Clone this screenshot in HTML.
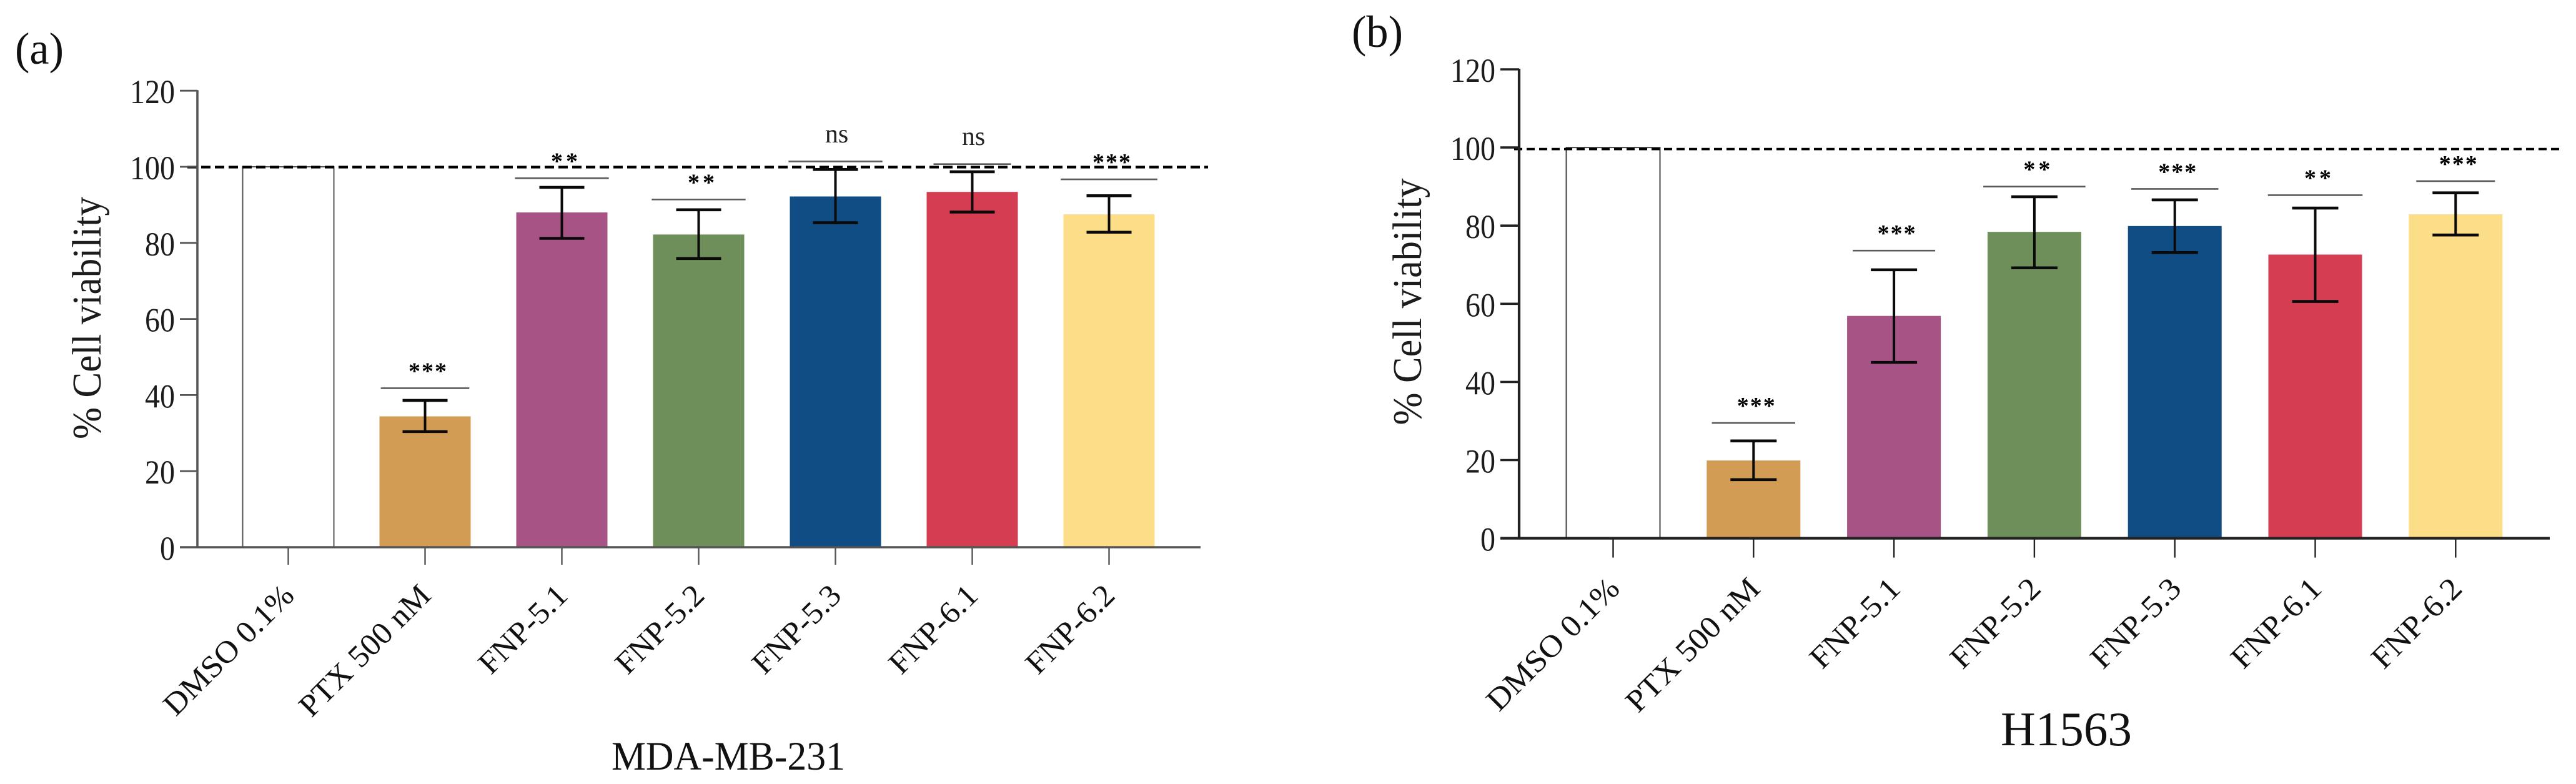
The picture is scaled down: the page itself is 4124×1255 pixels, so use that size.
<!DOCTYPE html>
<html lang="en">
<head>
<meta charset="utf-8">
<title>Cell viability bar charts</title>
<style>
  html, body { margin: 0; padding: 0; background: #fff; }
  svg { display: block; font-family: "Liberation Serif", serif; }
</style>
</head>
<body>
<svg id="figure" xmlns="http://www.w3.org/2000/svg" width="4124" height="1255" viewBox="0 0 4124 1255">
  <rect x="0" y="0" width="4124" height="1255" fill="#ffffff"/>
</svg>
<script>
// Shared data
const categories = ['DMSO 0.1%', 'PTX 500 nM', 'FNP-5.1', 'FNP-5.2', 'FNP-5.3', 'FNP-6.1', 'FNP-6.2'];
const yTicks = [0, 20, 40, 60, 80, 100, 120];
const barColors = ['none', '#D29C55', '#A85385', '#6E8F5A', '#0F4D84', '#D53E52', '#FDDE88'];
const referenceLevel = 100;

// Panel (a) MDA-MB-231
const aValues = [100, 34.4, 88, 82.2, 92.2, 93.4, 87.5];
const aErrHigh = [null, 38.6, 94.6, 88.7, 99.3, 98.7, 92.4];
const aErrLow = [null, 30.4, 81.2, 75.9, 85.3, 88.1, 82.8];
const aSigLevel = [null, 41.8, 97, 91.4, 101.4, 100.7, 96.7];
const aSigLabel = [null, '***', '**', '**', 'ns', 'ns', '***'];
const aSigSpan = [null, 0.97, 1.03, 1.03, 1.03, 0.85, 1.06];

// Panel (b) H1563
const bValues = [100, 19.9, 56.9, 78.4, 79.9, 72.6, 82.9];
const bErrHigh = [null, 24.9, 68.7, 87.4, 86.6, 84.5, 88.4];
const bErrLow = [null, 15, 45, 69.2, 73.1, 60.6, 77.6];
const bSigLevel = [null, 29.5, 73.6, 90, 89.4, 87.8, 91.4];
const bSigLabel = [null, '***', '***', '**', '***', '**', '***'];
const bSigSpan = [null, 0.89, 0.88, 1.09, 0.93, 1.01, 0.84];

const SVG_NS = 'http://www.w3.org/2000/svg';
const figure = document.getElementById('figure');

function mk(parent, tag, attrs, name, text) {
  const el = document.createElementNS(SVG_NS, tag);
  for (const k in attrs) el.setAttribute(k, attrs[k]);
  
  
  if (text !== undefined) el.textContent = text;
  parent.appendChild(el);
  return el;
}

function slug(s) {
  return s.toLowerCase().replace(/[^a-z0-9]+/g, '-');
}

function drawPanel(p) {
  const g = mk(figure, 'g', {}, p.id + '-chart');
  const x = i => p.x0 + p.pitch * i;
  const y = v => p.yZero - v * p.pxPerUnit;

  // Bars
  p.values.forEach((v, i) => {
    const slugName = slug(categories[i]);
    if (barColors[i] === 'none') {
      mk(g, 'rect', { x: x(i) - p.barW / 2, y: y(v), width: p.barW, height: y(0) - y(v),
        fill: 'none', stroke: p.outline, 'stroke-width': 2 }, p.id + '-bar-' + slugName);
    } else {
      mk(g, 'rect', { x: x(i) - p.barW / 2, y: y(v), width: p.barW, height: y(0) - y(v),
        fill: barColors[i] }, p.id + '-bar-' + slugName);
    }
  });

  // Reference line
  mk(g, 'line', { x1: p.dashFrom, x2: p.dashTo, y1: y(referenceLevel) + p.dashNudge, y2: y(referenceLevel) + p.dashNudge,
    stroke: '#000', 'stroke-width': p.dashW, 'stroke-dasharray': p.dash }, p.id + '-reference-line');

  // Axes
  mk(g, 'line', { x1: p.axisX, x2: p.axisX, y1: y(120) - 1, y2: y(0) + 1, stroke: p.axisColor, 'stroke-width': p.axisW }, p.id + '-y-axis');
  mk(g, 'line', { x1: p.axisX - p.tickLen, x2: p.xAxisEnd, y1: y(0), y2: y(0), stroke: p.axisColor, 'stroke-width': p.axisW }, p.id + '-x-axis');

  yTicks.forEach(t => {
    if (t !== 0) {
      mk(g, 'line', { x1: p.axisX - p.tickLen, x2: p.axisX, y1: y(t), y2: y(t), stroke: p.axisColor, 'stroke-width': p.tickW }, p.id + '-y-tick-' + t);
    }
    const label = String(t);
    mk(g, 'text', { x: p.axisX - p.tickLen - 8, y: y(t) + 20, 'text-anchor': 'end', 'font-size': 54, fill: '#1c1c1c',
      textLength: label.length * 24, lengthAdjust: 'spacingAndGlyphs' }, p.id + '-y-tick-label-' + t, label);
  });

  // X ticks and rotated labels
  categories.forEach((c, i) => {
    const slugName = slug(categories[i]);
    mk(g, 'line', { x1: x(i), x2: x(i), y1: y(0), y2: y(0) + p.xTickLen, stroke: p.axisColor, 'stroke-width': 2.4 }, p.id + '-x-tick-' + slugName);
    mk(g, 'text', { transform: 'translate(' + (x(i) + p.labelDx) + ',' + p.labelY + ') rotate(-45) scale(' + p.labelScale + ',1)',
      'text-anchor': 'end', 'font-size': 50, fill: '#111' }, p.id + '-x-label-' + slugName, c);
  });

  // Error bars and significance marks
  p.values.forEach((v, i) => {
    if (p.errHigh[i] === null) return;
    const slugName = slug(categories[i]);
    const hi = y(p.errHigh[i]);
    const lo = y(p.errLow[i]);
    const cx = x(i);
    const cap = p.capW / 2;
    mk(g, 'line', { x1: cx, x2: cx, y1: hi, y2: lo, stroke: '#0a0a0a', 'stroke-width': 4 }, p.id + '-error-stem-' + slugName);
    mk(g, 'line', { x1: cx - cap, x2: cx + cap, y1: hi, y2: hi, stroke: '#0a0a0a', 'stroke-width': 4.6 }, p.id + '-error-cap-high-' + slugName);
    mk(g, 'line', { x1: cx - cap, x2: cx + cap, y1: lo, y2: lo, stroke: '#0a0a0a', 'stroke-width': 4.6 }, p.id + '-error-cap-low-' + slugName);

    const sy = y(p.sigLevel[i]);
    const half = p.sigSpan[i] * p.barW / 2;
    mk(g, 'line', { x1: cx - half, x2: cx + half, y1: sy, y2: sy, stroke: '#5a5a5a', 'stroke-width': 2.6 }, p.id + '-significance-bracket-' + slugName);
    const lab = p.sigLabel[i];
    if (lab === 'ns') {
      mk(g, 'text', { x: cx + 2, y: sy - 30.5, 'text-anchor': 'middle', 'font-size': 42, fill: '#222' }, p.id + '-significance-label-' + slugName, lab);
    } else {
      const ls = lab.length === 2 ? 5 : 2;
      mk(g, 'text', { x: cx + 4 + ls / 2, y: sy - 33 + 18, 'text-anchor': 'middle', 'font-size': 38, 'font-weight': 'bold', fill: '#000', 'letter-spacing': ls }, p.id + '-significance-label-' + slugName, lab);
    }
  });

  // Titles
  mk(g, 'text', { transform: 'translate(' + p.yTitleX + ',' + p.yTitleY + ') rotate(-90)', 'text-anchor': 'middle', 'font-size': 66, fill: '#1c1c1c',
    textLength: p.yTitleLen, lengthAdjust: 'spacingAndGlyphs' }, p.id + '-y-axis-title', '% Cell viability');
  mk(g, 'text', { x: p.xTitleX, y: p.xTitleY, 'font-size': p.xTitleSize, fill: '#111',
    textLength: p.xTitleLen, lengthAdjust: 'spacingAndGlyphs' }, p.id + '-x-axis-title', p.xTitle);
  mk(g, 'text', { x: p.tagX, y: p.tagY, 'font-size': 72, fill: '#111',
    textLength: p.tagLen, lengthAdjust: 'spacingAndGlyphs' }, p.id + '-panel-label', p.tag);
}

drawPanel({
  id: 'panel-a', tag: '(a)', tagX: 24, tagY: 102, tagLen: 78,
  values: aValues, errHigh: aErrHigh, errLow: aErrLow, sigLevel: aSigLevel, sigLabel: aSigLabel, sigSpan: aSigSpan,
  x0: 461.5, pitch: 219, barW: 146, capW: 72,
  yZero: 876, pxPerUnit: 6.09,
  axisX: 316, axisW: 3.6, tickW: 2.8, tickLen: 28, xAxisEnd: 1922, axisColor: '#555555', outline: '#555555', xTickLen: 28,
  dashFrom: 300, dashTo: 1934, dashNudge: 0.5, dashW: 4.2, dash: '15 7',
  labelDx: 12, labelY: 956, labelScale: 1.04,
  yTitleX: 161, yTitleY: 509, yTitleLen: 388,
  xTitle: 'MDA-MB-231', xTitleX: 979, xTitleY: 1232, xTitleSize: 65, xTitleLen: 374
});

drawPanel({
  id: 'panel-b', tag: '(b)', tagX: 2164, tagY: 75, tagLen: 82,
  values: bValues, errHigh: bErrHigh, errLow: bErrLow, sigLevel: bSigLevel, sigLabel: bSigLabel, sigSpan: bSigSpan,
  x0: 2582.5, pitch: 224.8, barW: 150, capW: 74,
  yZero: 861.6, pxPerUnit: 6.255,
  axisX: 2432, axisW: 4.2, tickW: 3.6, tickLen: 30, xAxisEnd: 4082, axisColor: '#222222', outline: '#444444', xTickLen: 31,
  dashFrom: 2424, dashTo: 4101, dashNudge: 2.5, dashW: 3.8, dash: '13 7',
  labelDx: 13, labelY: 945, labelScale: 1.06,
  yTitleX: 2275, yTitleY: 483, yTitleLen: 395,
  xTitle: 'H1563', xTitleX: 3203, xTitleY: 1193, xTitleSize: 77, xTitleLen: 210
});
</script>
</body>
</html>
